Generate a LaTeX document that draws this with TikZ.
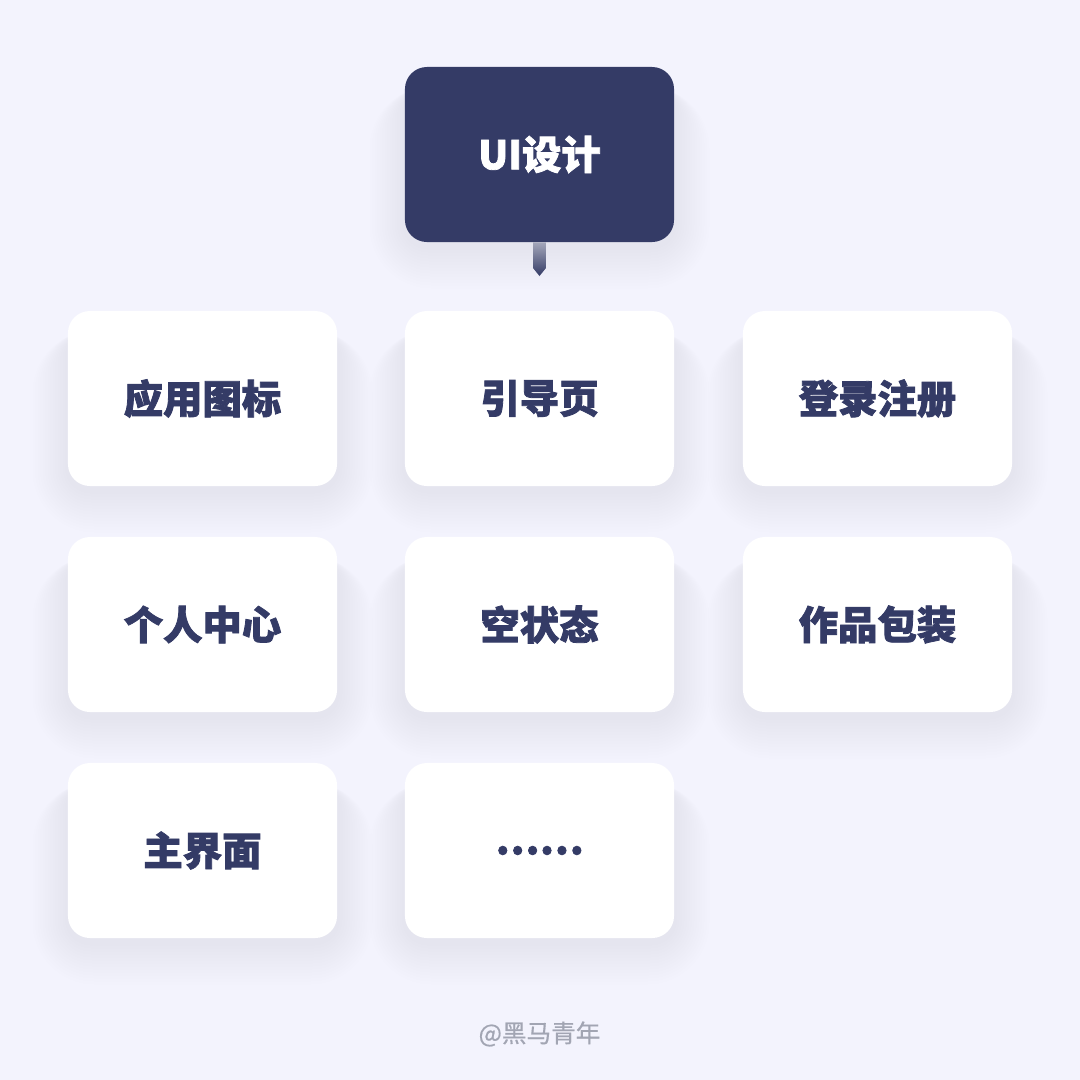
\documentclass[tikz,border=0pt]{standalone}
\usepackage{fontspec}
\setmainfont{Noto Sans CJK SC}[BoldFeatures={FakeBold=2}]
\usetikzlibrary{calc}
\definecolor{navy}{HTML}{343B66}
\definecolor{bg}{HTML}{F3F3FD}
\definecolor{haze}{HTML}{D0D0EC}
\definecolor{footgray}{HTML}{A2A5B3}
\tikzset{
  card/.style={fill=white, rounded corners=0.55cm, minimum width=6.725cm, minimum height=4.375cm,
    inner sep=0pt, text=navy, font=\fontsize{28}{30}\selectfont\bfseries},
  topcard/.style={card, fill=navy, text=white},
}

\begin{document}
\begin{tikzpicture}[x=0.025cm,y=-0.025cm]
    % background
    \fill[bg] (0,0) rectangle (1080,1080);
    \useasboundingbox (0,0) rectangle (1080,1080);

    % soft shadows under the cards
    \foreach \cx/\cy in {539.5/154.5, 202.5/398.5, 539.5/398.5, 877.5/398.5,
                         202.5/624.5, 539.5/624.5, 877.5/624.5, 202.5/850.5, 539.5/850.5}
      \foreach \g in {1,...,14}
        \fill[haze, opacity=0.016, rounded corners={0.55cm+0.07cm*\g}]
          (\cx-134.5-2.5*\g, \cy-87.5+20) rectangle (\cx+134.5+2.5*\g, \cy+87.5+4+3*\g);

    % the root card
    \node[topcard] (ui) at (539.5,154.5) {UI设计};

    % the stem under it
    \coordinate (tip) at (539.5,276);
    \shade[top color=navy!45, bottom color=navy]
      ($(ui.south)+(-6.5,0)$) -- ($(ui.south)+(6.5,0)$) -- ($(tip)+(6.5,-8)$) -- (tip)
      -- ($(tip)+(-6.5,-8)$) -- cycle;

    % first row
    \node[card] (icon)  at (202.5,398.5) {应用图标};
    \node[card] (guide) at (539.5,398.5) {引导页};
    \node[card] (login) at (877.5,398.5) {登录注册};

    % second row
    \node[card] (center) at (202.5,624.5) {个人中心};
    \node[card] (empty)  at (539.5,624.5) {空状态};
    \node[card] (works)  at (877.5,624.5) {作品包装};

    % third row
    \node[card] (home) at (202.5,850.5) {主界面};
    \node[card] (more) at (539.5,850.5) {……};

    % signature
    \node[text=footgray, font=\fontsize{17.5}{20}\selectfont\addfontfeatures{FakeBold=0.6}] (credit)
      at (539.5,1034) {@黑马青年};
\end{tikzpicture}
\end{document}
